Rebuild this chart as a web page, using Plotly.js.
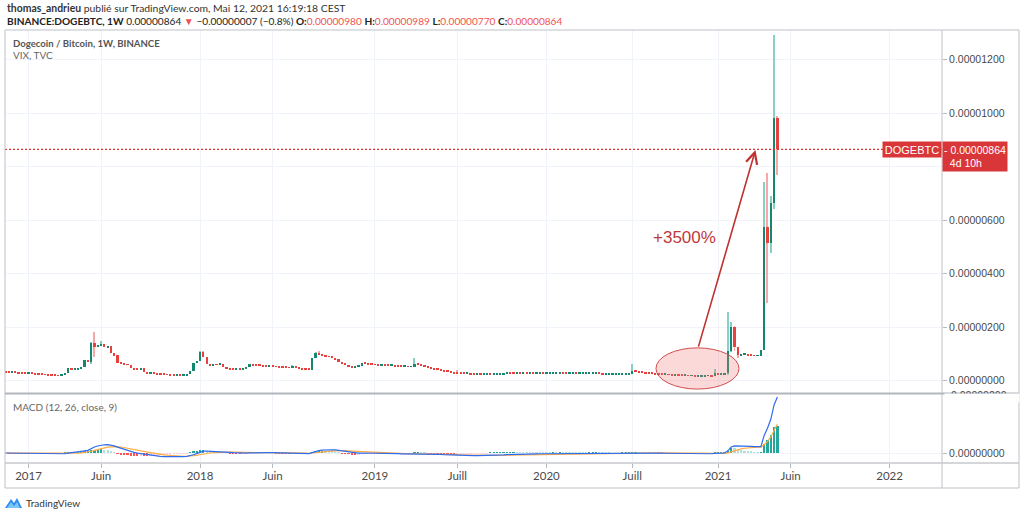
<!DOCTYPE html>
<html><head><meta charset="utf-8">
<script src="https://cdn.plot.ly/plotly-3.0.1.min.js"></script>
<style>html,body{margin:0;padding:0;background:#fff;overflow:hidden}#chart{width:1024px;height:515px}</style>
</head><body><div id="chart"></div>
<script>
// ---------- DATA (prices in satoshi = 1e-8 BTC, weekly bars) ----------
const firstWeekUTC = [2016, 10, 14]; // Monday 14 Nov 2016
const closesSat = [
 31,30,30,29,28,27,26,26,25,24,23,22,21,20,19,18,17,21,27,45,
 40,43,44,50,78,70,141,126,130,138,125,128,102,95,67,63,60,58,45,42,
 41,46,32,25,26,25,24,23,22,21,20,19,19,18,19,26,36,64,72,105,
 88,62,57,60,58,62,52,46,43,42,42,41,42,52,60,57,56,55,54,53,
 53,52,51,50,49,48,47,52,48,44,43,42,41,85,104,98,92,90,88,86,
 80,68,63,58,52,50,53,55,66,63,60,59,58,57,57,56,55,55,54,53,
 52,52,51,52,63,58,55,51,48,45,42,40,37,35,33,30,28,27,26,25,
 25,24,23,23,22,22,23,22,23,24,24,25,29,28,27,27,26,27,26,26,
 25,25,26,25,25,25,26,26,28,27,26,26,26,25,25,25,25,26,26,26,
 25,24,24,24,24,24,24,24,24,24,36,34,31,29,27,26,25,24,23,22,
 22,21,20,20,19,18,18,17,17,16,16,16,17,17,16,29,24,24,27,111,
 201,126,94,96,97,95,93,92,93,115,575,513,662,980,864
];
const firstOpenSat = 32;
// visible wick extremes [week index, satoshi]
const highWicks = [[26,145],[27,183],[29,147],[59,110],[60,110],[87,57],[94,108],[95,112],[124,84],[137,39],[190,62],[215,44],[219,257],[220,220],[221,205],[230,743],[231,775],[232,690],[233,1291],[234,989]];
const lowWicks = [[26,60],[27,89],[219,20],[220,105],[221,110],[222,85],[231,289],[232,475],[233,640],[234,770]];
const xTickDates = ['2017-01-02','2017-06-05','2018-01-01','2018-06-04','2019-01-07','2019-07-01','2020-01-06','2020-07-06','2021-01-04','2021-06-07','2022-01-03'];
const xTickLabels = ['2017','Juin','2018','Juin','2019','Juill','2020','Juill','2021','Juin','2022'];
const priceTicksSat = [0,200,400,600,800,1000,1200];
const priceTickLabels = ['0.00000000','0.00000200','0.00000400','0.00000600','','0.00001000','0.00001200'];
const lastPriceSat = 864;
const SAT = 1e-8;

// ---------- derived ----------
const DAY = 864e5, WEEK = 7*DAY;
const t0 = Date.UTC(firstWeekUTC[0], firstWeekUTC[1], firstWeekUTC[2]);
const dates = closesSat.map((_, i) => new Date(t0 + i*WEEK).toISOString().slice(0,10));
const opens = closesSat.map((c, i) => i === 0 ? firstOpenSat : closesSat[i-1]);
const hiMap = Object.fromEntries(highWicks), loMap = Object.fromEntries(lowWicks);
const highs = closesSat.map((c, i) => Math.max(c, opens[i], hiMap[i] ?? -Infinity));
const lows = closesSat.map((c, i) => Math.min(c, opens[i], loMap[i] ?? Infinity));
const isUp = closesSat.map((c, i) => c >= opens[i]);

const UP_BODY = '#13876f', UP_WICK = '#86d1c3', DN_BODY = '#e8403d', DN_WICK = '#f5a8a7';
const MIN_SPAN = 3.2; // ~1px, TradingView draws flat candles as a 1px line

const wickTrace = {
  type: 'bar', x: dates, base: lows.map(v => v*SAT), y: highs.map((h, i) => Math.max(h - lows[i], MIN_SPAN)*SAT),
  width: WEEK*0.3, marker: {color: isUp.map(u => u ? UP_WICK : DN_WICK), line: {width: 0}},
  hoverinfo: 'skip', xaxis: 'x', yaxis: 'y'
};
const bodyTrace = {
  type: 'bar', x: dates,
  base: closesSat.map((c, i) => Math.min(c, opens[i])*SAT),
  y: closesSat.map((c, i) => Math.max(Math.abs(c - opens[i]), MIN_SPAN)*SAT),
  width: WEEK*0.68, marker: {color: isUp.map(u => u ? UP_BODY : DN_BODY), line: {width: 0}},
  hoverinfo: 'skip', xaxis: 'x', yaxis: 'y'
};

// MACD (12, 26, close, 9)
function ema(arr, n) { const k = 2/(n+1); const out = []; let p = arr[0]; arr.forEach((v, i) => { p = i === 0 ? v : v*k + p*(1-k); out.push(p); }); return out; }
const closeBTC = closesSat.map(v => v*SAT);
const e12 = ema(closeBTC, 12), e26 = ema(closeBTC, 26);
const macd = e12.map((v, i) => v - e26[i]);
const signal = ema(macd, 9);
const hist = macd.map((v, i) => v - signal[i]);
const histColors = hist.map((h, i) => {
  const prev = i === 0 ? 0 : hist[i-1];
  return h >= 0 ? (h > prev ? '#26a69a' : '#b2dfdb') : (h > prev ? '#ffcdd2' : '#ff5252');
});
const histTrace = {type: 'bar', x: dates, y: hist, width: WEEK*0.68, marker: {color: histColors, line: {width: 0}}, hoverinfo: 'skip', xaxis: 'x', yaxis: 'y2'};
const macdTrace = {type: 'scatter', mode: 'lines', x: dates, y: macd, line: {color: '#2f6cf0', width: 1.2}, hoverinfo: 'skip', xaxis: 'x', yaxis: 'y2'};
const sigTrace = {type: 'scatter', mode: 'lines', x: dates, y: signal, line: {color: '#ffad42', width: 1.2}, hoverinfo: 'skip', xaxis: 'x', yaxis: 'y2'};

// ---------- layout helpers (pixel -> paper) ----------
const PL = 5, PR = 942, PT = 30, PB = 463;
const px = x => (x - PL)/(PR - PL);
const py = y => (PB - y)/(PB - PT);
const FRAME = '#bfc1c8', GRID = '#f0f3fa', AXTXT = '#4a4a4a';
const UI = 'Lato, "Liberation Sans", Arial, sans-serif';
const SANS = '"Liberation Sans", Arial, sans-serif';

const red = s => `<span style="color:#ef5350">${s}</span>`;
const annotations = [
  {xref: 'paper', yref: 'paper', x: px(5), y: py(8), xanchor: 'left', yanchor: 'middle', showarrow: false,
   text: '<b>thomas_andrieu</b> publié sur TradingView.com, Mai 12, 2021 16:19:18 CEST', font: {family: UI, size: 10.4, color: '#333'}},
  {xref: 'paper', yref: 'paper', x: px(5), y: py(21), xanchor: 'left', yanchor: 'middle', showarrow: false,
   text: '<b>BINANCE:DOGEBTC, 1W</b> 0.00000864 ' + red('▼') + ' −0.00000007 (−0.8%) <b>O:</b>' + red('0.00000980') + ' <b>H:</b>' + red('0.00000989') + ' <b>L:</b>' + red('0.00000770') + ' <b>C:</b>' + red('0.00000864'),
   font: {family: UI, size: 10.1, color: '#222'}},
  {xref: 'paper', yref: 'paper', x: px(11), y: py(43), xanchor: 'left', yanchor: 'middle', showarrow: false,
   text: '<b>Dogecoin / Bitcoin, 1W, BINANCE</b>', font: {family: UI, size: 9.6, color: '#555'}},
  {xref: 'paper', yref: 'paper', x: px(11), y: py(55), xanchor: 'left', yanchor: 'middle', showarrow: false,
   text: 'VIX, TVC', font: {family: UI, size: 10, color: '#666'}},
  {xref: 'paper', yref: 'paper', x: px(11), y: py(407), xanchor: 'left', yanchor: 'middle', showarrow: false,
   text: 'MACD (12, 26, close, 9)', font: {family: UI, size: 10, color: '#666'}},
  {xref: 'paper', yref: 'paper', x: px(24), y: py(503), xanchor: 'left', yanchor: 'middle', showarrow: false,
   text: 'TradingView', font: {family: UI, size: 10, color: '#333'}},
  // partially hidden MACD top label
  {xref: 'paper', yref: 'paper', x: 1, xshift: 7, y: py(394.5), xanchor: 'left', yanchor: 'middle', showarrow: false,
   text: '0.00000200', font: {family: SANS, size: 10.5, color: AXTXT}},
  {xref: 'paper', yref: 'paper', x: px(944), y: py(392.5), xanchor: 'left', yanchor: 'top', showarrow: false,
   text: '', width: 74, height: 8, bgcolor: '#ffffff', borderpad: 0},
  // last price label
  {xref: 'paper', yref: 'y', x: 1, y: lastPriceSat*SAT, xanchor: 'right', yanchor: 'middle', showarrow: false,
   text: 'DOGEBTC', width: 56, height: 13, bgcolor: '#d9363a', font: {family: SANS, size: 11, color: '#fff'}, borderpad: 1},
  {xref: 'paper', yref: 'y', x: 1, y: lastPriceSat*SAT, yshift: 8, xanchor: 'left', yanchor: 'top', showarrow: false, align: 'left',
   text: '-\u00a00.00000864<br>\u00a0\u00a04d\u00a010h', width: 62, height: 27, bgcolor: '#d9363a', font: {family: SANS, size: 10.5, color: '#fff'}, borderpad: 1},
  // drawing annotations
  {xref: 'x', yref: 'y', x: '2020-10-24', y: 533*SAT, showarrow: false, text: '+3500%',
   font: {family: SANS, size: 17, color: '#c0393b'}},
  {xref: 'x', yref: 'y', axref: 'x', ayref: 'y', x: '2021-03-24 12:00', y: 862*SAT, ax: '2020-11-22 14:00', ay: 121*SAT,
   text: '', showarrow: true, arrowhead: 5, arrowsize: 1.4, arrowwidth: 1.6, arrowcolor: '#c0322f', standoff: 0, startstandoff: 0}
];

const frameLine = (x0, y0, x1, y1, w, c) => ({type: 'line', xref: 'paper', yref: 'paper', x0: px(x0), y0: py(y0), x1: px(x1), y1: py(y1), line: {color: c || FRAME, width: w || 1}, layer: 'above'});
const shapes = [
  {type: 'circle', xref: 'x', yref: 'y', x0: '2020-08-25 10:00', x1: '2021-02-17 14:00', y0: -32*SAT, y1: 122*SAT,
   fillcolor: 'rgba(240,120,120,0.28)', line: {color: '#cf4d4d', width: 1}, layer: 'above'},
  {type: 'line', xref: 'paper', yref: 'y', x0: 0, x1: 1, y0: lastPriceSat*SAT, y1: lastPriceSat*SAT, line: {color: '#e0302e', width: 1.3, dash: '2px,2px'}, layer: 'above'},
  frameLine(5, 30, 1019, 30),
  frameLine(5, 30, 5, 488),
  frameLine(1019, 30, 1019, 488),
  frameLine(5, 488, 1019, 488),
  frameLine(942, 30, 942, 488),
  frameLine(5, 393.5, 1019, 393.5, 2, '#b4b6be'),
  frameLine(5, 463, 1019, 463, 1.5, '#c6c8ce'),
  // TradingView logo
  {type: 'path', xref: 'paper', yref: 'paper', xsizemode: 'pixel', ysizemode: 'pixel', xanchor: px(5), yanchor: py(503),
   path: 'M0,-5 L6,4 L9,0 L12,5 L17,-5 Z', fillcolor: '#2a8ef0', line: {width: 0}},
  {type: 'path', xref: 'paper', yref: 'paper', xsizemode: 'pixel', ysizemode: 'pixel', xanchor: px(5), yanchor: py(503),
   path: 'M2,-5 L6,1 L9,-3 L12,1 L15,-5 Z', fillcolor: '#7cc4f8', line: {width: 0}}
];

const layout = {
  width: 1024, height: 515,
  margin: {l: PL, r: 1024 - PR, t: PT, b: 515 - PB},
  paper_bgcolor: '#fff', plot_bgcolor: '#fff',
  showlegend: false, barmode: 'overlay', bargap: 0, hovermode: false, dragmode: false,
  xaxis: {type: 'date', range: ['2016-11-13 03:40', '2022-04-24 07:00'], anchor: 'y2',
    tickvals: xTickDates, ticktext: xTickLabels, ticks: 'outside', ticklen: 4, tickcolor: '#b8bac2',
    ticklabelstandoff: -2,
    showgrid: true, gridcolor: GRID, gridwidth: 1, showline: false, zeroline: false,
    tickfont: {family: UI, size: 11.5, color: AXTXT}, fixedrange: true},
  yaxis: {domain: [py(393), 1], side: 'right', anchor: 'x', range: [-46.7*SAT, 1310.3*SAT],
    tickvals: priceTicksSat.map(v => v*SAT), ticktext: priceTickLabels, ticks: 'outside', ticklen: 4, tickcolor: '#b8bac2',
    showgrid: true, gridcolor: GRID, zeroline: false, showline: false,
    tickfont: {family: SANS, size: 10.5, color: AXTXT}, fixedrange: true},
  yaxis2: {domain: [0, py(394)], side: 'right', anchor: 'x', range: [-0.3279e-6, 1.9344e-6],
    tickvals: [0], ticktext: ['0.00000000'], ticks: 'outside', ticklen: 4, tickcolor: '#b8bac2',
    showgrid: true, gridcolor: GRID, zeroline: false, showline: false,
    tickfont: {family: SANS, size: 10.5, color: AXTXT}, fixedrange: true},
  annotations: annotations, shapes: shapes
};

Plotly.newPlot('chart', [wickTrace, bodyTrace, histTrace, sigTrace, macdTrace], layout, {displayModeBar: false, responsive: false});
</script>
</body></html>
